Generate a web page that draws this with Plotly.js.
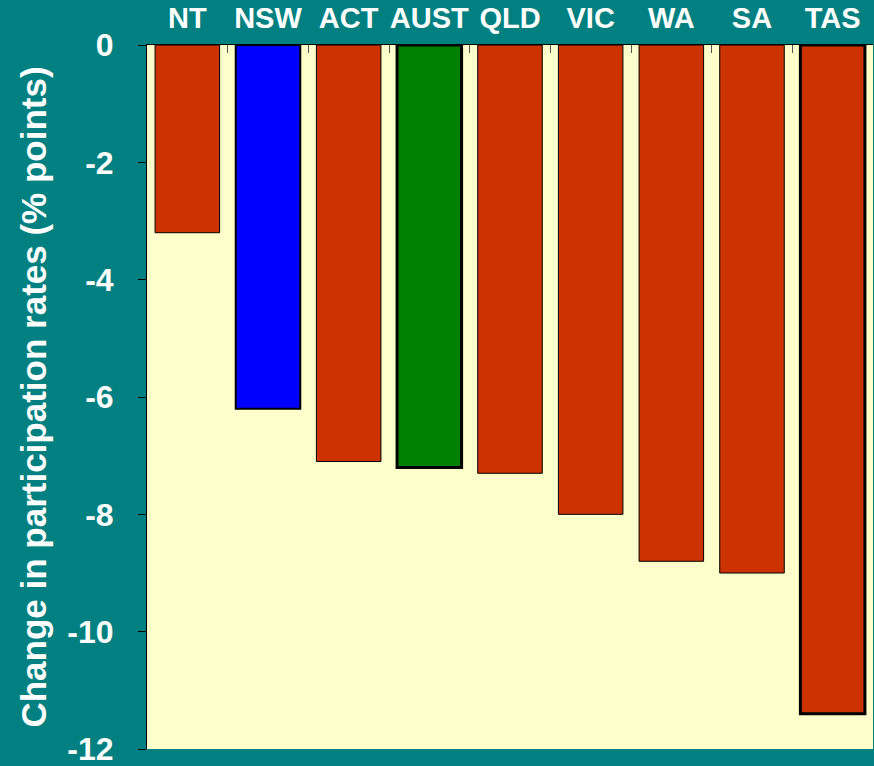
<!DOCTYPE html>
<html>
<head>
<meta charset="utf-8">
<script src="https://cdn.plot.ly/plotly-3.0.1.min.js"></script>
<style>
  html, body { margin: 0; padding: 0; background: #008080; }
  #chart { width: 874px; height: 766px; }
</style>
</head>
<body>
<div id="chart"></div>
<script>
// States ordered as in the chart, change in participation rate (% points)
const states = ['NT', 'NSW', 'ACT', 'AUST', 'QLD', 'VIC', 'WA', 'SA', 'TAS'];
const changes = [-3.2, -6.2, -7.1, -7.2, -7.3, -8.0, -8.8, -9.0, -11.4];
const barColors = ['#CC3300', '#0000FF', '#CC3300', '#008000', '#CC3300', '#CC3300', '#CC3300', '#CC3300', '#CC3300'];
const borderWidths = [1, 2, 1, 3, 1, 1, 1, 1, 3];

const yTicks = [0, -2, -4, -6, -8, -10, -12];

const trace = {
    x: states,
    y: changes,
    type: 'bar',
    marker: {
        color: barColors,
        line: { color: '#000000', width: borderWidths },
    },
    hoverinfo: 'x+y',
};

const layout = {
    width: 874,
    height: 766,
    paper_bgcolor: '#008080',
    plot_bgcolor: '#FFFFCC',
    showlegend: false,
    bargap: 0.2,
    margin: { l: 147, r: 1, t: 45, b: 17 },
    font: { family: 'Arial, "Liberation Sans", sans-serif', color: '#FFFFFF' },
    xaxis: {
        side: 'top',
        type: 'category',
        showline: true,
        linecolor: '#000000',
        linewidth: 1,
        ticks: 'inside',
        tickson: 'boundaries',
        ticklen: 8,
        tickcolor: '#555555',
        tickangle: 0,
        ticklabelstandoff: 4,
        ticklabeloverflow: 'allow',
        tickfont: { size: 29, color: '#FFFFFF', weight: 'bold' },
        showgrid: false,
        zeroline: false,
    },
    yaxis: {
        range: [-12, 0],
        tickvals: yTicks,
        ticktext: yTicks.map(String),
        showline: true,
        linecolor: '#000000',
        linewidth: 1,
        ticks: 'outside',
        ticklen: 8,
        tickcolor: '#000000',
        ticklabelstandoff: 18,
        ticklabeloverflow: 'allow',
        tickfont: { size: 32, color: '#FFFFFF', weight: 'bold' },
        showgrid: false,
        zeroline: false,
        title: {
            text: 'Change in participation rates (% points)',
            font: { size: 35, color: '#FFFFFF', weight: 'bold' },
            standoff: 10,
        },
    },
};

Plotly.newPlot('chart', [trace], layout, { displayModeBar: false, staticPlot: true });
</script>
</body>
</html>
